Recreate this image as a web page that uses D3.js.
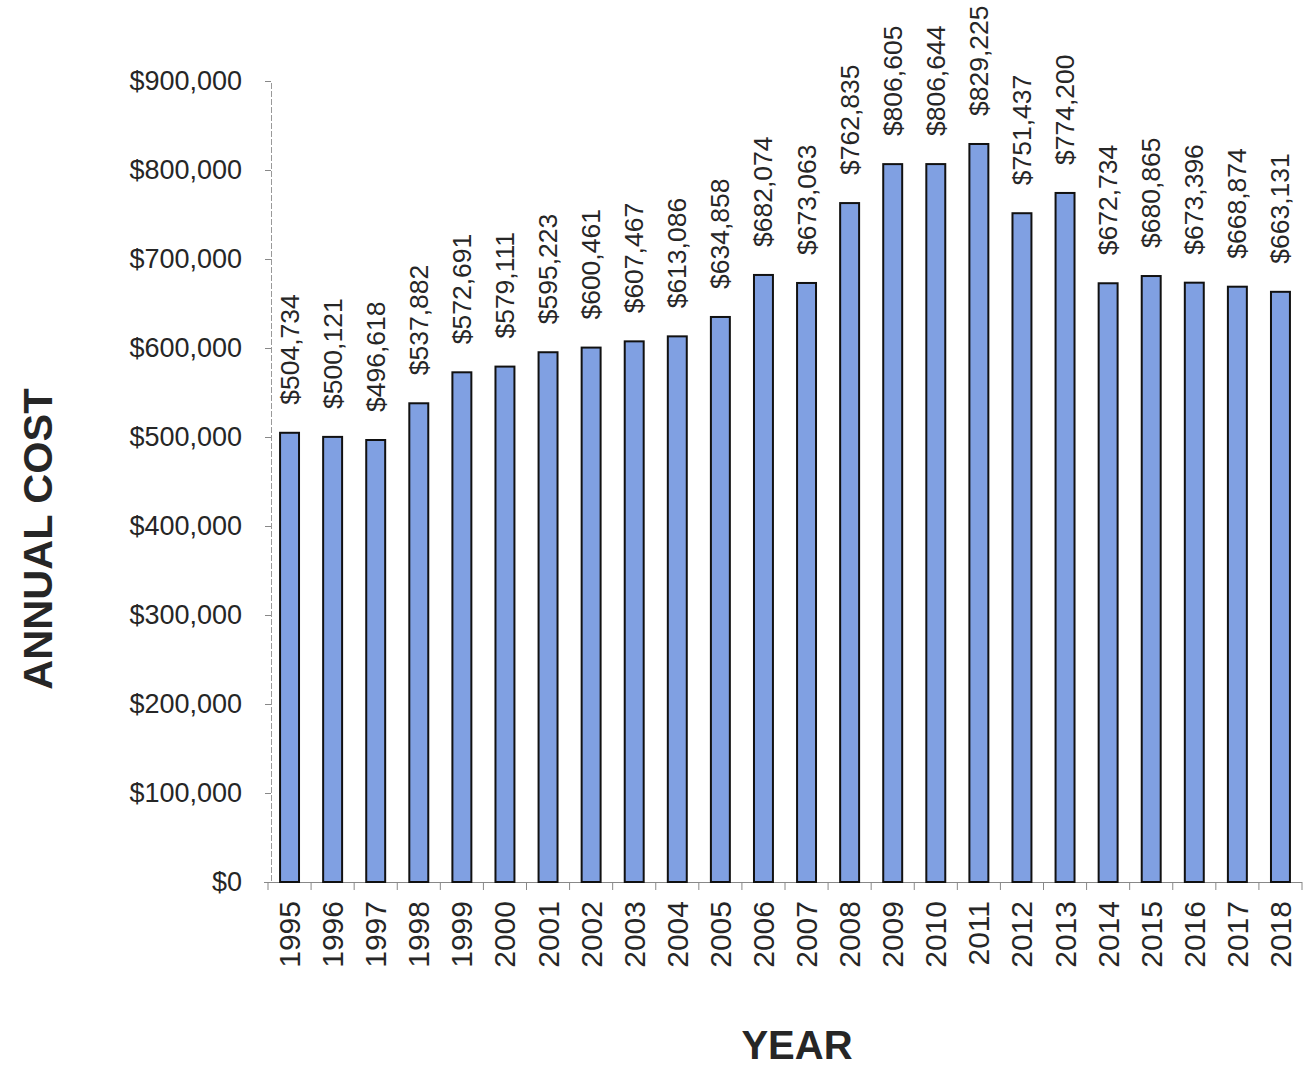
<!DOCTYPE html>
<html><head><meta charset="utf-8">
<script src="https://cdn.jsdelivr.net/npm/d3@7"></script>
<style>body{margin:0;background:#fff}svg{display:block}text{font-family:"Liberation Sans",Arial,sans-serif}</style>
</head><body><svg id="c" width="1314" height="1067"></svg>
<script>
const years = ["1995","1996","1997","1998","1999","2000","2001","2002","2003","2004","2005","2006","2007","2008","2009","2010","2011","2012","2013","2014","2015","2016","2017","2018"];
const costs = [504734,500121,496618,537882,572691,579111,595223,600461,607467,613086,634858,682074,673063,762835,806605,806644,829225,751437,774200,672734,680865,673396,668874,663131];
const yTicks = [0,100000,200000,300000,400000,500000,600000,700000,800000,900000];

const svg = d3.select("#c");
const x = d3.scaleBand().domain(years).range([268,1302]).paddingInner(0.56).paddingOuter(0.28);
const xb = d3.scaleBand().domain(years).range([268,1302]);
const y = d3.scaleLinear().domain([0,900000]).range([882,81]);
const fmt = v => "$" + d3.format(",")(v);
const txt = "#262626";

// y axis
const ya = svg.append("g").attr("transform","translate(271,0)")
  .call(d3.axisLeft(y).tickValues(yTicks).tickFormat(fmt).tickSize(6).tickPadding(23));
ya.select(".domain").attr("stroke","#999").attr("stroke-dasharray","6,2");
ya.selectAll(".tick line").attr("stroke","#888");
ya.selectAll(".tick text").attr("font-size","27px").attr("fill",txt).attr("font-family","Liberation Sans, Arial, sans-serif");

// x axis line and boundary ticks
svg.append("line").attr("x1",264).attr("x2",1302).attr("y1",882.5).attr("y2",882.5).attr("stroke","#888");
const bounds = years.map(d=>xb(d)).concat([1302]);
svg.selectAll(".xt").data(bounds).enter().append("line")
  .attr("x1",d=>d).attr("x2",d=>d).attr("y1",882).attr("y2",890).attr("stroke","#888");

// bars
svg.selectAll(".bar").data(costs).enter().append("rect")
  .attr("x",(d,i)=>x(years[i])).attr("width",x.bandwidth())
  .attr("y",d=>y(d)).attr("height",d=>882-y(d))
  .attr("fill","#80a0e2").attr("stroke","#111").attr("stroke-width",2);

// value labels
svg.selectAll(".vl").data(costs).enter().append("text")
  .attr("transform",(d,i)=>`translate(${x(years[i])+x.bandwidth()/2},${y(d)-28}) rotate(-90)`)
  .attr("dominant-baseline","central").attr("text-anchor","start")
  .attr("font-size","26.5px").attr("fill",txt).text(fmt);

// year labels
svg.selectAll(".yl").data(years).enter().append("text")
  .attr("transform",d=>`translate(${x(d)+x.bandwidth()/2},901) rotate(-90)`)
  .attr("dominant-baseline","central").attr("text-anchor","end")
  .attr("font-size","30px").attr("fill",txt).text(d=>d);

// axis titles
svg.append("text").attr("transform","translate(37,539) rotate(-90)")
  .attr("text-anchor","middle").attr("dominant-baseline","central")
  .attr("font-size","41.5px").attr("font-weight","bold").attr("fill",txt).text("ANNUAL COST");
svg.append("text").attr("x",797).attr("y",1059).attr("text-anchor","middle")
  .attr("font-size","40px").attr("font-weight","bold").attr("fill",txt).text("YEAR");
</script></body></html>
